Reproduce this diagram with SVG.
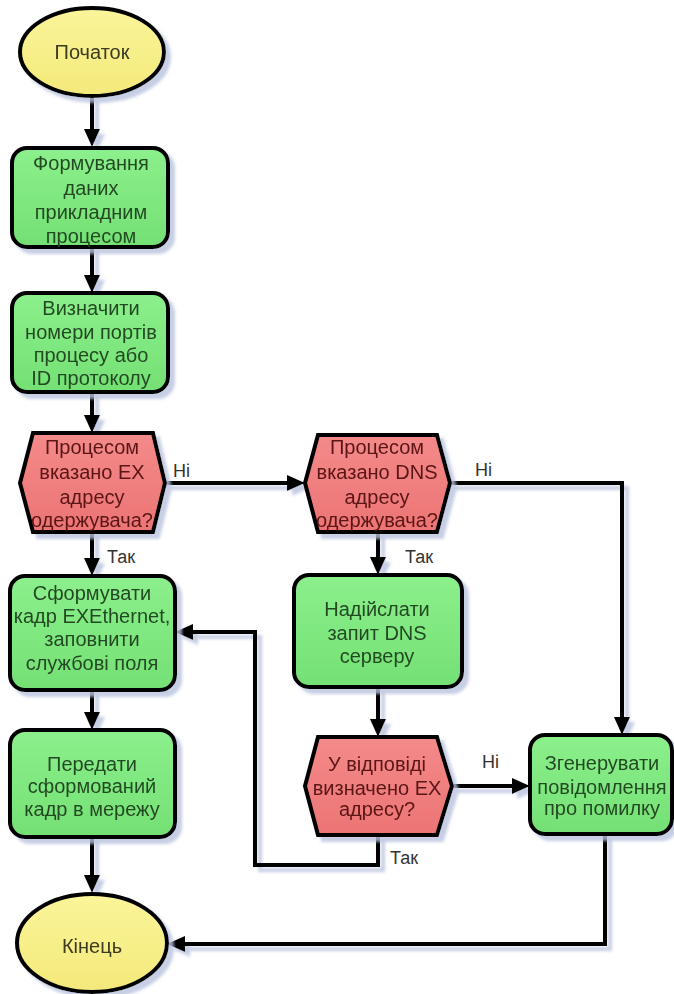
<svg xmlns="http://www.w3.org/2000/svg" width="674" height="994" viewBox="0 0 674 994">
<defs>
<filter id="sh" x="-10%" y="-10%" width="130%" height="130%">
<feDropShadow dx="5" dy="5" stdDeviation="1.5" flood-color="#b9c3de" flood-opacity="0.8"/>
</filter>
<linearGradient id="gGreen" x1="0" y1="0" x2="0" y2="1">
<stop offset="0" stop-color="#8cf08c"/><stop offset="1" stop-color="#74e074"/>
</linearGradient>
<linearGradient id="gRed" x1="0" y1="0" x2="0" y2="1">
<stop offset="0" stop-color="#f48a8a"/><stop offset="1" stop-color="#ec7474"/>
</linearGradient>
<linearGradient id="gYel" x1="0" y1="0" x2="0" y2="1">
<stop offset="0" stop-color="#fbf59a"/><stop offset="1" stop-color="#f3e97a"/>
</linearGradient>
<marker id="ah" markerUnits="userSpaceOnUse" markerWidth="20" markerHeight="18" refX="8" refY="8" orient="auto">
<path d="M0,0 L18,8 L0,16 z" fill="#000"/>
</marker>
</defs>
<style>
text{font-family:"Liberation Sans",Arial,sans-serif;font-size:20px;text-anchor:middle}
.term{fill:url(#gYel);stroke:#000;stroke-width:4}
.proc{fill:url(#gGreen);stroke:#000;stroke-width:4}
.dec{fill:url(#gRed);stroke:#000;stroke-width:4;stroke-linejoin:miter}
.tt{fill:#3a3a22}
.tp{fill:#244a24}
.td{fill:#5a1515}
.conn path{fill:none;stroke:#000;stroke-width:4;marker-end:url(#ah)}
.lbl{font-size:18px;text-anchor:start;fill:#333}
</style>
<rect width="674" height="994" fill="#fff"/>

<g id="connectors" class="conn" filter="url(#sh)">
<path d="M92,97 V137"/>
<path d="M92,247 V283"/>
<path d="M92,392 V423"/>
<path d="M165,483 H295"/>
<path d="M92,532 V566"/>
<path d="M378,532 V565"/>
<path d="M450,483 H622 V725"/>
<path d="M378,687 V727"/>
<path d="M452,786 H520"/>
<path d="M378,835 V865 H255 V632 H185"/>
<path d="M92,690 V720"/>
<path d="M92,837 V883"/>
<path d="M605,834 V944 H177"/>
</g>

<g id="start" filter="url(#sh)">
<ellipse class="term" cx="92" cy="52" rx="72" ry="44"/>
<text class="tt" x="92" y="59">Початок</text>
</g>

<g id="form-data" filter="url(#sh)">
<rect class="proc" x="12" y="148" width="156" height="99" rx="15"/>
<text class="tp" x="91" y="170">Формування</text>
<text class="tp" x="91" y="195">даних</text>
<text class="tp" x="91" y="219">прикладним</text>
<text class="tp" x="91" y="243">процесом</text>
</g>

<g id="ports" filter="url(#sh)">
<rect class="proc" x="12" y="293" width="156" height="99" rx="15"/>
<text class="tp" x="91" y="315">Визначити</text>
<text class="tp" x="91" y="339">номери портів</text>
<text class="tp" x="91" y="362">процесу або</text>
<text class="tp" x="91" y="385">ID протоколу</text>
</g>

<g id="dec-ex" filter="url(#sh)">
<polygon class="dec" points="33,433 153,433 165,483 153,532 33,532 20,483"/>
<text class="td" x="92" y="454">Процесом</text>
<text class="td" x="92" y="479">вказано EX</text>
<text class="td" x="92" y="504">адресу</text>
<text class="td" x="92" y="527">одержувача?</text>
</g>

<g id="dec-dns" filter="url(#sh)">
<polygon class="dec" points="318,435 437,435 450,483 437,532 318,532 305,483"/>
<text class="td" x="377" y="454">Процесом</text>
<text class="td" x="377" y="479">вказано DNS</text>
<text class="td" x="377" y="504">адресу</text>
<text class="td" x="377" y="527">одержувача?</text>
</g>

<g id="build-frame" filter="url(#sh)">
<rect class="proc" x="10" y="576" width="165" height="114" rx="15"/>
<text class="tp" x="92" y="600">Сформувати</text>
<text class="tp" x="92" y="623">кадр EXEthernet,</text>
<text class="tp" x="92" y="646">заповнити</text>
<text class="tp" x="92" y="670">службові поля</text>
</g>

<g id="dns-query" filter="url(#sh)">
<rect class="proc" x="294" y="575" width="168" height="112" rx="15"/>
<text class="tp" x="377" y="616">Надійслати</text>
<text class="tp" x="377" y="640">запит DNS</text>
<text class="tp" x="377" y="663">серверу</text>
</g>

<g id="dec-resp" filter="url(#sh)">
<polygon class="dec" points="318,737 437,737 452,786 437,835 318,835 305,786"/>
<text class="td" x="377" y="771">У відповіді</text>
<text class="td" x="377" y="795">визначено EX</text>
<text class="td" x="377" y="816">адресу?</text>
</g>

<g id="error" filter="url(#sh)">
<rect class="proc" x="530" y="735" width="142" height="99" rx="15"/>
<text class="tp" x="602" y="770">Згенерувати</text>
<text class="tp" x="602" y="794">повідомлення</text>
<text class="tp" x="602" y="815">про помилку</text>
</g>

<g id="send" filter="url(#sh)">
<rect class="proc" x="10" y="730" width="165" height="107" rx="15"/>
<text class="tp" x="92" y="771">Передати</text>
<text class="tp" x="92" y="793">сформований</text>
<text class="tp" x="92" y="816">кадр в мережу</text>
</g>

<g id="end" filter="url(#sh)">
<ellipse class="term" cx="92" cy="943" rx="75" ry="49"/>
<text class="tt" x="92" y="953">Кінець</text>
</g>

<g id="labels">
<text class="lbl" x="173" y="477">Ні</text>
<text class="lbl" x="107" y="563">Так</text>
<text class="lbl" x="475" y="476">Ні</text>
<text class="lbl" x="405" y="563">Так</text>
<text class="lbl" x="482" y="768">Ні</text>
<text class="lbl" x="390" y="864">Так</text>
</g>
</svg>
